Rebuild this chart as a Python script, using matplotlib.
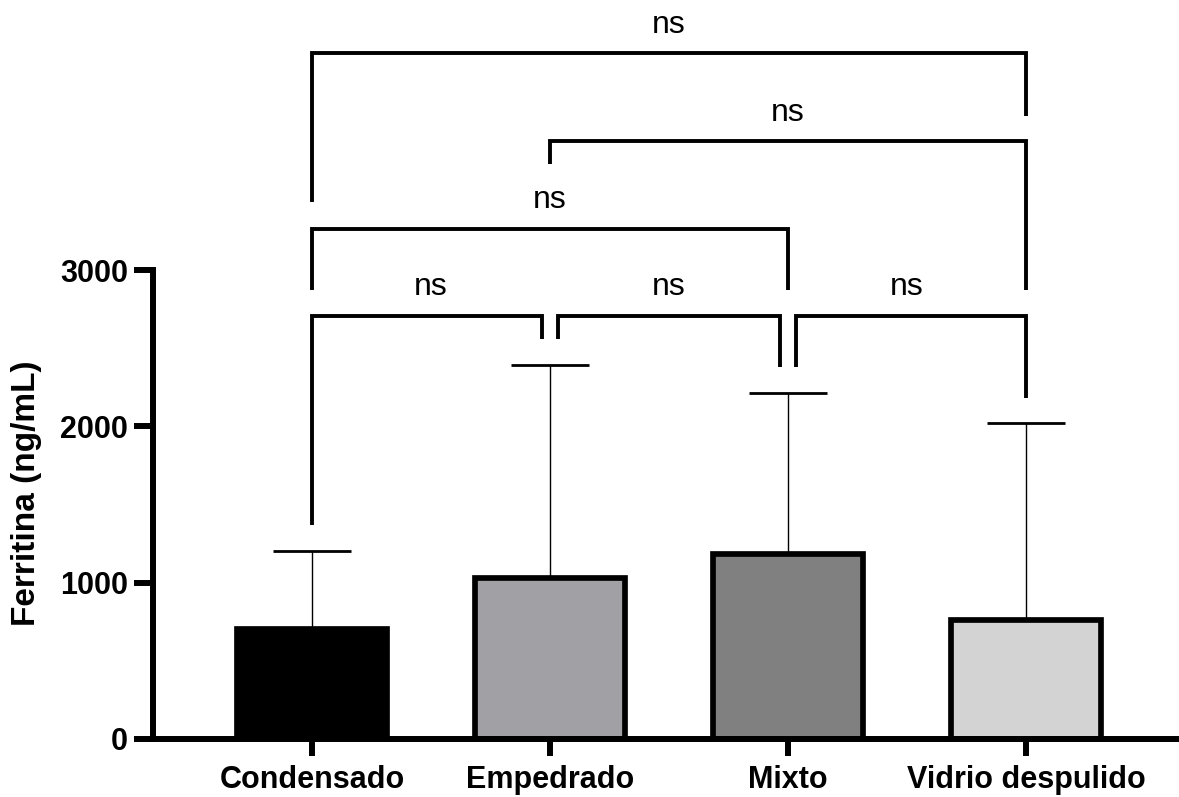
import numpy as np
import matplotlib
matplotlib.use("Agg")
import matplotlib.pyplot as plt

plt.rcParams["font.family"] = ["Liberation Sans", "DejaVu Sans"]

# ── Data ───────────────────────────────────────────────────────────────────────
groups   = ["Condensado", "Empedrado", "Mixto", "Vidrio despulido"]
means    = [705, 1030, 1185, 761]
sds      = [500, 1365, 1030, 1260]
colors   = ["#000000", "#A1A0A5", "#808080", "#D3D3D3"]

# multiple comparisons (group index pairs), all non-significant
pairs       = [(0, 1), (1, 2), (2, 3), (0, 2), (1, 3), (0, 3)]
bar_heights = [2709, 2709, 2709, 3266, 3827, 4389]
left_ends   = [1366, 2557, 2378, 2874, 3679, 3436]
right_ends  = [2557, 2378, 2183, 2874, 2874, 3986]
p_labels    = ["ns", "ns", "ns", "ns", "ns", "ns"]

# ── Figure ─────────────────────────────────────────────────────────────────────
W, H = 1179, 797
fig = plt.figure(figsize=(W / 100, H / 100), dpi=100)
ax = fig.add_axes([153 / W, 58 / H, 1026 / W, 734 / H])

x = np.arange(len(groups))
ax.bar(x, means, width=0.63, color=colors, edgecolor="black",
       linewidth=4.1, zorder=2)
ax.errorbar(x, means, yerr=[np.zeros(len(sds)), sds], fmt="none",
            ecolor="black", elinewidth=1.0, capsize=28.3, capthick=2.0,
            zorder=1)

# ── Comparison brackets ────────────────────────────────────────────────────────
gap = 0.033
for (a, b), h, y_l, y_r, lab in zip(pairs, bar_heights, left_ends, right_ends, p_labels):
    # nudge legs apart where two brackets on one row meet at the same bar
    same_row = [p for p, hh in zip(pairs, bar_heights) if hh == h and p != (a, b)]
    xa = a + (gap if any(p[1] == a for p in same_row) else 0)
    xb = b - (gap if any(p[0] == b for p in same_row) else 0)
    ax.plot([xa, xa, xb, xb], [y_l, h, h, y_r], color="black",
            linewidth=2.8, solid_joinstyle="miter", solid_capstyle="butt",
            clip_on=False, zorder=3)
    ax.annotate(lab, xy=((a + b) / 2, h), xytext=(0, 14.5),
                textcoords="offset points", ha="center", va="baseline",
                fontsize=23, annotation_clip=False)

# ── Axes styling ───────────────────────────────────────────────────────────────
ax.set_xlim(-0.668, 3.643)
ax.set_ylim(0, 4696)
for side in ("top", "right"):
    ax.spines[side].set_visible(False)
ax.spines["left"].set_bounds(0, 3000)
ax.spines["left"].set_linewidth(4.3)
ax.spines["bottom"].set_linewidth(4.3)

ax.set_yticks([0, 1000, 2000, 3000])
ax.set_xticks(x)
ax.set_xticklabels(groups)
ax.tick_params(axis="y", length=14, width=4.3, pad=4, labelsize=22)
ax.tick_params(axis="x", length=12, width=4.3, pad=7, labelsize=22)
for lbl in ax.get_xticklabels() + ax.get_yticklabels():
    lbl.set_fontweight("bold")

ax.set_ylabel("Ferritina (ng/mL)", fontsize=24, fontweight="bold")
ax.yaxis.set_label_coords(-0.108, 0.335)

fig.savefig("out.png", dpi=100)
